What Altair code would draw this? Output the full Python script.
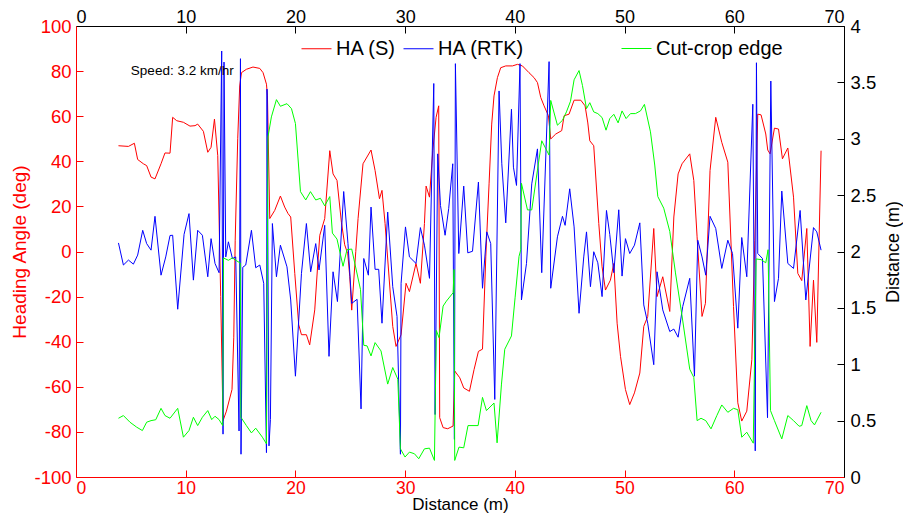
import altair as alt
import pandas as pd

RED = "#ff0000"
BLUE = "#0000ff"
GREEN = "#00ff00"
FONT = "Liberation Sans"

# Heading angle from the sensor, HA (S): (distance m, angle deg)
ha_s = [(3.87,46.9),(4.78,46.6),(5.32,48.0),(5.62,40.8),(6.14,38.9),(6.44,38.1),(6.84,33.0),(7.20,32.2),
        (7.75,38.9),(8.11,43.7),(8.57,43.6),(8.81,59.5),(9.18,58.0),(9.79,57.3),(10.39,55.6),(10.85,55.8),
        (11.09,56.5),(11.61,53.3),(12.01,44.0),(12.31,46.2),(12.62,58.7),(12.92,42.5),(13.19,-20),(13.40,-75),
        (13.71,-70.8),(14.22,-61.2),(14.38,-38),(14.51,5),(14.74,50),(14.92,73.4),(15.08,79.3),(15.53,80.8),
        (16.13,81.8),(16.75,81.2),(17.05,79.3),(17.36,74.2),(17.45,69.0),(17.66,14.6),(18.11,18.2),(18.63,24.6),
        (19.02,19.7),(19.33,16.8),(19.57,15.3),(19.94,-9.7),(20.30,-32.5),(20.55,-36.9),(21.00,-36.9),(21.30,-41.4),
        (21.76,-25.9),(22.06,-3.8),(22.22,7.2),(22.67,14.6),(23.13,44.7),(23.43,34.4),(23.79,31.5),(24.19,13),
        (24.49,3),(24.77,-1),(24.95,-11),(25.13,-26),(25.50,0),(25.71,14.6),(26.16,38.9),(26.89,45),
        (27.26,35.9),(27.66,23.4),(27.89,27.1),(28.17,12.4),(28.87,-33.2),(29.17,-42.1),(29.63,-36.9),(30.08,-14.1),
        (30.39,-17.8),(30.99,-5.3),(31.39,-14.1),(31.76,12.4),(31.91,29.0),(32.22,24.1),(32.52,44.7),(32.82,59.5),
        (33.06,64.6),(33.15,-73.7),(33.46,-78.1),(33.88,-78.6),(34.37,-77.4),(34.52,-53),(34.98,-56),(35.34,-60.5),
        (35.86,-62),(36.28,-52.4),(36.68,-44.3),(37.05,-43.3),(37.35,-2.4),(37.65,30),(37.89,56.5),(38.10,69),
        (38.41,77.1),(38.71,81.5),(39.17,82.3),(39.78,82.3),(40.24,83),(40.69,82.3),(41.29,79.3),(41.75,77.1),
        (42.06,74.9),(42.36,68.3),(42.66,64.6),(43.06,60.2),(43.27,49.9),(43.73,52.1),(44.27,53.6),(44.49,60.2),
        (44.94,60.9),(45.40,67.1),(46.01,67.1),(46.40,64.6),(46.65,57),(46.83,49.1),(47.19,46.9),(47.65,12.4),
        (47.95,-6.8),(48.26,-17.1),(48.71,-12.7),(49.02,-5.3),(49.32,-31.8),(49.63,-46.5),(50.08,-61.2),(50.47,-67.9),
        (50.90,-62.7),(51.39,-53.9),(51.75,-33.2),(52.11,-28.8),(52.66,10.2),(52.96,-20),(53.48,-11.2),(54.12,-26.6),
        (54.49,15.3),(54.88,34.4),(55.24,38.9),(55.94,43.3),(56.31,31.5),(56.61,6.5),(57.06,-28.8),(57.37,-23),
        (57.79,35.9),(58.31,59.5),(58.86,48.4),(59.41,39.6),(59.93,-24.4),(60.32,-67.1),(60.68,-75.2),(61.14,-70.8),
        (61.60,-48),(61.87,5),(62.14,60.9),(62.44,60.6),(62.87,52.1),(63.05,45),(63.26,43.3),(63.66,54.7),
        (64.03,54.3),(64.39,41.1),(64.88,45.9),(65.40,24.1),(65.79,-9.7),(66.15,-12.9),(66.61,10.2),(66.91,-42.1),
        (67.22,-12.7),(67.52,-40.3),(67.91,44.7)]

# Heading angle from RTK GPS, HA (RTK): (distance m, angle deg)
ha_rtk = [(3.87,3.8),(4.32,-6.0),(4.78,-3.8),(5.23,-5.6),(5.62,-1.6),(6.08,9.4),(6.44,3.5),(6.84,0.6),
          (7.20,15.6),(7.75,-10.5),(8.18,-2.4),(8.57,7.1),(8.81,7.2),(9.27,-25.6),(9.85,7.6),(10.30,16.8),
          (10.70,-12.7),(11.09,9.4),(11.52,7.2),(12.01,-11.2),(12.31,5.7),(12.67,-5.3),(13.04,-9.4),(13.28,88.9),
          (13.40,-81),(13.49,84),(13.65,-2.4),(13.89,4.3),(14.26,-3.1),(14.56,-2.4),(14.86,-79.6),(14.99,85.5),
          (15.04,-89.9),(15.20,-7),(15.47,-6),(15.99,9.4),(16.38,-7.2),(16.75,-6),(17.11,-14.1),(17.36,-89.2),
          (17.41,72),(17.59,-86.2),(17.72,-74.5),(17.90,12.4),(18.27,-11.2),(18.63,2.8),(19.23,-6.8),(19.57,-21.5),
          (20.00,-55.3),(20.55,-9.7),(21.00,12.4),(21.39,-9),(21.85,3.5),(22.15,-8.2),(22.67,11.6),(23.06,-46.5),
          (23.43,-9),(23.83,-22.2),(24.40,26.6),(24.79,3.5),(25.13,-23),(25.62,-21.2),(25.98,-69.8),(26.23,-3.1),
          (26.65,-10.5),(26.89,19.7),(27.26,-7.9),(27.59,-7.9),(27.89,-31.8),(28.41,17.5),(28.87,-15.6),(29.26,-28.8),
          (29.57,-89.9),(29.63,-14.1),(30.03,10.9),(30.39,-2.4),(30.99,-5.3),(31.39,10.6),(31.76,2.8),(32.22,-11.9),
          (32.61,74.5),(32.73,-72.3),(32.97,43.3),(33.22,20.4),(33.64,7.2),(33.97,19),(34.34,38.9),(34.49,-83.3),
          (34.58,83.3),(34.89,-0.9),(35.34,29),(35.71,-0.6),(36.14,0.1),(36.68,30.8),(37.05,-16.3),(37.44,8.7),
          (37.80,3.5),(38.17,-65.6),(38.56,71.2),(38.81,38.9),(39.17,12.7),(39.69,63.1),(39.87,37.4),(40.15,29.3),
          (40.47,83.3),(40.60,-21.5),(41.06,-5.3),(41.54,30),(42.06,45.5),(42.45,-9.4),(43.12,84.2),(43.27,-16.3),
          (43.88,6.5),(44.34,15.6),(44.58,11.6),(45.00,27.8),(45.40,10.9),(45.85,-27.4),(46.28,-2.4),(46.53,8.7),
          (46.89,-15.6),(47.19,-0.1),(47.56,-5),(47.95,-20),(48.35,18.2),(48.65,7.6),(49.02,-9.4),(49.47,18.5),
          (49.77,-10.9),(50.08,5.7),(50.47,-0.9),(50.90,2.8),(51.39,12.7),(51.75,-23.7),(52.11,-31.8),(52.66,-50.2),
          (52.96,-9),(53.48,-25.9),(54.12,-35.5),(54.49,-34.4),(54.88,-38),(55.30,-24.4),(55.94,-11.9),(56.37,-55.3),
          (56.67,5),(57.06,-2.4),(57.40,-10.5),(57.79,15.6),(58.31,10.2),(58.86,-7.5),(59.41,5),(59.84,-0.9),
          (60.32,-34),(60.68,6.2),(61.14,-11.2),(61.69,65.3),(61.91,-88.4),(62.02,83.7),(62.14,-0.9),(62.57,-3.1),
          (63.03,-73.7),(63.33,75.6),(63.66,-22.2),(64.03,-11.9),(64.33,26.8),(64.88,-5.3),(65.40,-7.5),(66.00,18.2),
          (66.52,-21.5),(67.22,10.6),(67.52,8.7),(67.91,0.6)]

# Cut-crop edge distance: (distance m, edge distance m)
edge = [(3.87,0.521),(4.32,0.545),(4.92,0.486),(5.53,0.442),(6.05,0.412),(6.44,0.486),(6.84,0.500),(7.27,0.508),
        (7.75,0.609),(8.11,0.545),(8.57,0.521),(9.27,0.609),(9.79,0.353),(10.30,0.412),(10.70,0.530),(11.09,0.456),
        (11.52,0.530),(12.01,0.589),(12.37,0.509),(12.67,0.539),(13.04,0.509),(13.37,0.456),(13.44,1.943),(13.89,1.922),
        (14.26,1.943),(14.56,1.922),(14.97,1.898),(15.03,0.530),(15.53,0.456),(15.99,0.391),(16.38,0.433),(16.99,0.353),
        (17.36,0.294),(17.50,3.017),(17.81,3.194),(18.27,3.347),(18.63,3.288),(19.23,3.311),(19.64,3.267),(20.00,3.135),
        (20.46,2.531),(20.94,2.457),(21.37,2.531),(21.85,2.457),(22.28,2.472),(22.67,2.405),(23.13,2.487),(23.37,2.163),
        (23.79,2.110),(24.34,1.869),(24.70,2.016),(25.13,2.022),(25.93,1.663),(26.23,1.168),(26.53,1.163),(26.89,1.074),
        (27.26,1.192),(27.80,1.118),(28.41,0.824),(28.87,0.971),(29.33,0.868),(29.57,0.25),(29.99,0.177),(30.39,0.221),
        (30.85,0.206),(31.24,0.162),(31.76,0.25),(32.22,0.256),(32.67,0.147),(32.84,1.3),(33.09,1.236),(33.46,1.516),
        (33.76,1.56),(34.37,1.634),(34.46,1.84),(34.52,0.147),(34.91,0.265),(35.34,0.259),(35.73,0.456),(36.65,0.456),
        (37.05,0.706),(37.41,0.589),(38.10,0.656),(38.38,0.303),(38.78,0.824),(39.08,1.133),(39.69,1.251),(40.02,1.589),
        (40.38,1.957),(40.54,2.016),(40.60,2.605),(41.15,2.369),(41.54,2.369),(42.06,2.722),(42.45,2.982),(43.12,2.855),
        (43.27,3.34),(43.88,3.12),(44.34,3.164),(44.70,3.238),(45.07,3.332),(45.40,3.523),(45.85,3.605),(46.16,3.473),
        (46.53,3.267),(46.83,3.32),(47.19,3.238),(47.56,3.223),(47.95,3.188),(48.31,3.076),(48.65,3.179),(49.02,3.217),
        (49.41,3.141),(49.77,3.247),(50.14,3.179),(50.54,3.223),(50.99,3.223),(51.45,3.247),(51.81,3.305),(52.36,3.061),
        (52.75,2.767),(53.03,2.487),(53.57,2.384),(54.12,2.178),(54.64,1.81),(55.24,1.428),(55.94,0.956),(56.31,0.883),
        (56.61,0.5),(56.97,0.521),(57.40,0.5),(57.88,0.427),(58.41,0.545),(58.86,0.639),(59.41,0.574),(59.93,0.609),
        (60.32,0.597),(60.68,0.353),(61.14,0.397),(61.73,0.3),(61.99,1.934),(62.44,1.928),(62.87,1.9),(63.08,2.016),
        (63.30,0.589),(63.66,0.5),(64.33,0.338),(64.88,0.545),(65.40,0.5),(65.91,0.45),(66.15,0.456),(66.61,0.633),
        (67.00,0.5),(67.31,0.462),(67.91,0.574)]

x_ticks = [0, 10, 20, 30, 40, 50, 60, 70]
ha_ticks = [-100, -80, -60, -40, -20, 0, 20, 40, 60, 80, 100]
dist_ticks = [0, 0.5, 1, 1.5, 2, 2.5, 3, 3.5, 4]
annotation = [(5.0, 80.0, "Speed: 3.2 km/hr")]

rows = []
for name, pts in (("HA (S)", ha_s), ("HA (RTK)", ha_rtk)):
    for i, (x, y) in enumerate(pts):
        rows.append({"x": x, "y": y, "series": name, "i": i})
df_ha = pd.DataFrame(rows)
df_edge = pd.DataFrame([{"x": x, "d": d, "series": "Cut-crop edge", "i": i}
                        for i, (x, d) in enumerate(edge)])
df_note = pd.DataFrame([{"x": x, "y": y, "label": t} for x, y, t in annotation])

TICK = [7, 4000]

x_bottom = alt.X(
    "x:Q",
    scale=alt.Scale(domain=[0, 70], nice=False, zero=False),
    axis=alt.Axis(orient="bottom", values=x_ticks, title="Distance (m)", titleColor="black",
                  titleFontSize=17, titlePadding=0, labelColor=RED, labelFontSize=17.5,
                  labelPadding=2, domainColor=RED, ticks=False, grid=True, gridColor="black",
                  gridDash=TICK, gridOpacity=1, labelExpr="datum.value + ''"),
)
y_left = alt.Y(
    "y:Q",
    scale=alt.Scale(domain=[-100, 100], nice=False, zero=False),
    axis=alt.Axis(orient="left", values=ha_ticks, title="Heading Angle (deg)", titleColor=RED,
                  titleFontSize=19, titlePadding=4, labelColor=RED, labelFontSize=18.5,
                  labelPadding=5, domainColor=RED, ticks=False, grid=True, gridColor=RED,
                  gridDash=TICK, gridOpacity=1, labelExpr="datum.value + ''"),
)

lines_ha = alt.Chart(df_ha).mark_line(strokeWidth=1, clip=True).encode(
    x=x_bottom,
    y=y_left,
    color=alt.Color(
        "series:N",
        scale=alt.Scale(domain=["HA (S)", "HA (RTK)"], range=[RED, BLUE]),
        legend=alt.Legend(title=None, orient="none", legendX=225, legendY=7, direction="horizontal",
                          symbolType="stroke", symbolSize=900, symbolStrokeWidth=1,
                          labelFontSize=20, labelFont=FONT, labelColor="black", labelOffset=4,
                          columnPadding=5, padding=0),
    ),
    order="i:Q",
)

note = alt.Chart(df_note).mark_text(align="left", baseline="middle", fontSize=13.5,
                                    font=FONT, color="black").encode(
    x=x_bottom, y=y_left, text="label:N"
)

left_layer = alt.layer(lines_ha, note)

edge_line = alt.Chart(df_edge).mark_line(strokeWidth=1, clip=True).encode(
    x=alt.X(
        "x:Q",
        scale=alt.Scale(domain=[0, 70], nice=False, zero=False),
        axis=alt.Axis(orient="top", values=x_ticks, title=None, labelColor="black", labelFontSize=18,
                      labelPadding=0, domainColor="black", ticks=False, grid=True, gridColor=RED,
                      gridDash=TICK, gridOpacity=1, labelExpr="datum.value + ''"),
    ),
    y=alt.Y(
        "d:Q",
        scale=alt.Scale(domain=[0, 4], nice=False, zero=False),
        axis=alt.Axis(orient="right", values=dist_ticks, title="Distance (m)", titleColor="black",
                      titleFontSize=18, titleAngle=270, titlePadding=27, labelColor="black",
                      labelFontSize=18.5, labelPadding=6, domainColor="black", ticks=False,
                      grid=True, gridColor="black", gridDash=TICK, gridOpacity=1,
                      labelExpr="datum.value + ''"),
    ),
    color=alt.Color(
        "series:N",
        scale=alt.Scale(domain=["Cut-crop edge"], range=[GREEN]),
        legend=alt.Legend(title=None, orient="none", legendX=545, legendY=7, direction="horizontal",
                          symbolType="stroke", symbolSize=900, symbolStrokeWidth=1,
                          labelFontSize=20, labelFont=FONT, labelColor="black", labelOffset=4,
                          padding=0),
    ),
    order="i:Q",
)

chart = (
    alt.layer(left_layer, edge_line)
    .resolve_scale(y="independent", color="independent")
    .resolve_axis(x="independent", y="independent")
    .resolve_legend(color="independent")
    .properties(width=768, height=451, autosize=alt.AutoSizeParams(type="none"),
                padding={"left": 68, "top": 18, "right": 59, "bottom": 36},
                background="white")
    .configure_axis(labelFont=FONT, titleFont=FONT, titleFontWeight="normal", domainWidth=1)
    .configure_view(stroke=None)
)

chart.save("out.html", embed_options={"renderer": "svg", "actions": False})
